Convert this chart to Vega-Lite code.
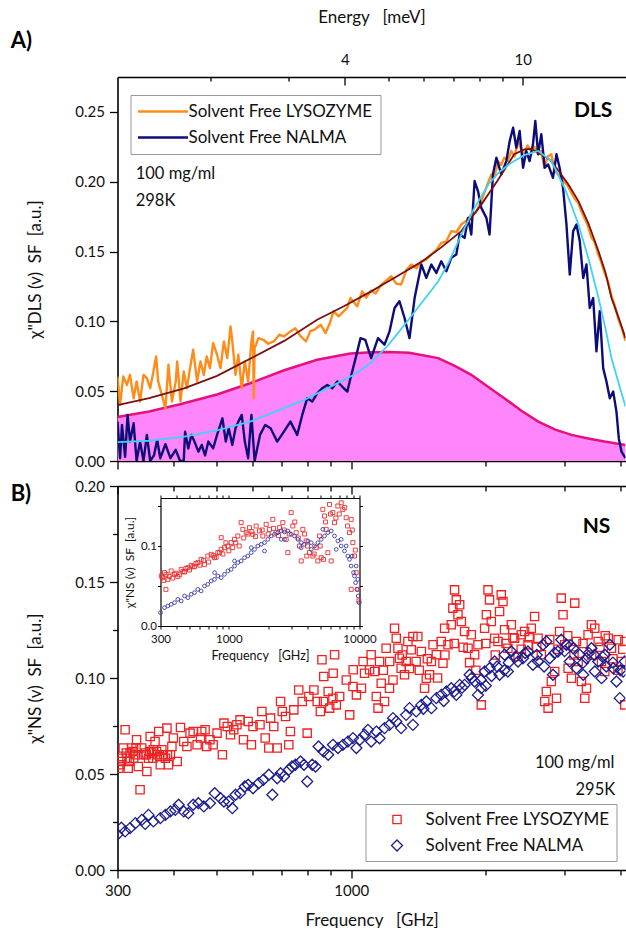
{
"$schema": "https://vega.github.io/schema/vega-lite/v6.json",
"padding": {"left": 10.5, "top": 8, "right": 0, "bottom": 0},
"background": "white",
"spacing": 25,
"bounds": "flush",
"config": {
  "font": "Lato",
  "view": {"stroke": null},
  "axis": {"grid": false, "domainColor": "#000", "domainWidth": 1.6, "tickColor": "#000", "tickWidth": 1.3, "labelColor": "#111", "titleColor": "#111", "labelFont": "Lato", "titleFont": "Lato", "labelFontSize": 15, "titleFontSize": 17, "titleFontWeight": "normal", "labelFlush": false, "labelOverlap": false},
  "legend": {"labelFont": "Lato", "labelFontSize": 17, "labelColor": "#111", "labelLimit": 400}
},
"datasets": {
  "comp": [{"f":300,"v":0.0315},{"f":353,"v":0.0355},{"f":412,"v":0.0405},{"f":501,"v":0.0476},{"f":594,"v":0.0557},{"f":708,"v":0.065},{"f":839,"v":0.0725},{"f":995,"v":0.077},{"f":1108,"v":0.0778},{"f":1210,"v":0.078},{"f":1348,"v":0.0775},{"f":1566,"v":0.0737},{"f":1709,"v":0.068},{"f":1856,"v":0.0617},{"f":2026,"v":0.053},{"f":2200,"v":0.045},{"f":2402,"v":0.036},{"f":2621,"v":0.0282},{"f":2861,"v":0.0225},{"f":3109,"v":0.0187},{"f":3411,"v":0.016},{"f":3686,"v":0.0139},{"f":4107,"v":0.0115}],
  "fitL": [{"f":300,"v":0.040},{"f":353,"v":0.045},{"f":423,"v":0.052},{"f":501,"v":0.061},{"f":594,"v":0.0732},{"f":708,"v":0.086},{"f":839,"v":0.1012},{"f":965,"v":0.111},{"f":1108,"v":0.1215},{"f":1261,"v":0.132},{"f":1435,"v":0.1426},{"f":1590,"v":0.153},{"f":1763,"v":0.1646},{"f":1954,"v":0.1836},{"f":2122,"v":0.2005},{"f":2316,"v":0.2197},{"f":2439,"v":0.2232},{"f":2528,"v":0.2235},{"f":2621,"v":0.2208},{"f":2788,"v":0.2155},{"f":2911,"v":0.2077},{"f":3061,"v":0.198},{"f":3223,"v":0.1861},{"f":3394,"v":0.170},{"f":3574,"v":0.1502},{"f":3704,"v":0.135},{"f":3821,"v":0.1167},{"f":3971,"v":0.102},{"f":4107,"v":0.088}],
  "fitN": [{"f":300,"v":0.0135},{"f":353,"v":0.0145},{"f":423,"v":0.0174},{"f":501,"v":0.022},{"f":594,"v":0.0282},{"f":672,"v":0.035},{"f":777,"v":0.043},{"f":916,"v":0.0545},{"f":1016,"v":0.062},{"f":1108,"v":0.0705},{"f":1210,"v":0.083},{"f":1316,"v":0.0976},{"f":1435,"v":0.113},{"f":1566,"v":0.1287},{"f":1657,"v":0.143},{"f":1763,"v":0.1622},{"f":1885,"v":0.181},{"f":2026,"v":0.198},{"f":2144,"v":0.207},{"f":2281,"v":0.2136},{"f":2439,"v":0.219},{"f":2621,"v":0.222},{"f":2803,"v":0.2148},{"f":2999,"v":0.1957},{"f":3109,"v":0.183},{"f":3223,"v":0.1694},{"f":3394,"v":0.145},{"f":3574,"v":0.1167},{"f":3704,"v":0.095},{"f":3821,"v":0.0737},{"f":3971,"v":0.055},{"f":4107,"v":0.039}],
  "dlsL": [{"f":300,"v":0.0605},{"f":304,"v":0.0402},{"f":309,"v":0.0605},{"f":315,"v":0.0545},{"f":320,"v":0.0617},{"f":326,"v":0.0449},{"f":331,"v":0.0569},{"f":337,"v":0.0426},{"f":343,"v":0.0617},{"f":349,"v":0.0593},{"f":355,"v":0.0521},{"f":361,"v":0.0641},{"f":366,"v":0.0749},{"f":370,"v":0.0569},{"f":377,"v":0.0474},{"f":384,"v":0.0378},{"f":390,"v":0.0689},{"f":397,"v":0.0426},{"f":405,"v":0.0569},{"f":408,"v":0.0713},{"f":415,"v":0.0426},{"f":422,"v":0.0641},{"f":429,"v":0.0521},{"f":436,"v":0.0665},{"f":443,"v":0.0797},{"f":452,"v":0.0569},{"f":460,"v":0.0713},{"f":468,"v":0.0617},{"f":475,"v":0.0749},{"f":483,"v":0.0665},{"f":491,"v":0.0844},{"f":501,"v":0.0761},{"f":510,"v":0.0665},{"f":519,"v":0.0856},{"f":528,"v":0.0737},{"f":537,"v":0.0964},{"f":542,"v":0.0856},{"f":551,"v":0.0617},{"f":559,"v":0.0761},{"f":569,"v":0.0521},{"f":578,"v":0.0713},{"f":588,"v":0.0569},{"f":598,"v":0.0856},{"f":603,"v":0.0928},{"f":605,"v":0.0449},{"f":608,"v":0.0808},{"f":620,"v":0.088},{"f":636,"v":0.0868},{"f":652,"v":0.084},{"f":671,"v":0.0856},{"f":690,"v":0.0905},{"f":707,"v":0.0892},{"f":731,"v":0.0928},{"f":750,"v":0.095},{"f":771,"v":0.0892},{"f":792,"v":0.0856},{"f":810,"v":0.093},{"f":827,"v":0.094},{"f":855,"v":0.0976},{"f":876,"v":0.0916},{"f":895,"v":0.0985},{"f":913,"v":0.1072},{"f":937,"v":0.1036},{"f":960,"v":0.107},{"f":980,"v":0.1096},{"f":996,"v":0.1167},{"f":1031,"v":0.1108},{"f":1058,"v":0.1215},{"f":1080,"v":0.117},{"f":1108,"v":0.122},{"f":1135,"v":0.12},{"f":1167,"v":0.1263},{"f":1195,"v":0.129},{"f":1229,"v":0.1323},{"f":1260,"v":0.127},{"f":1293,"v":0.1263},{"f":1330,"v":0.137},{"f":1362,"v":0.1407},{"f":1400,"v":0.138},{"f":1434,"v":0.143},{"f":1470,"v":0.144},{"f":1510,"v":0.1479},{"f":1550,"v":0.151},{"f":1590,"v":0.1562},{"f":1630,"v":0.157},{"f":1674,"v":0.1646},{"f":1720,"v":0.164},{"f":1763,"v":0.1694},{"f":1810,"v":0.172},{"f":1856,"v":0.1766},{"f":1900,"v":0.178},{"f":1954,"v":0.1861},{"f":2000,"v":0.195},{"f":2057,"v":0.205},{"f":2090,"v":0.203},{"f":2130,"v":0.2148},{"f":2165,"v":0.212},{"f":2200,"v":0.2172},{"f":2240,"v":0.215},{"f":2281,"v":0.222},{"f":2320,"v":0.218},{"f":2361,"v":0.2292},{"f":2400,"v":0.223},{"f":2439,"v":0.2197},{"f":2480,"v":0.226},{"f":2528,"v":0.222},{"f":2570,"v":0.225},{"f":2618,"v":0.2197},{"f":2660,"v":0.222},{"f":2705,"v":0.21},{"f":2750,"v":0.218},{"f":2803,"v":0.2197},{"f":2850,"v":0.208},{"f":2903,"v":0.205},{"f":2950,"v":0.203},{"f":2999,"v":0.2},{"f":3050,"v":0.197},{"f":3109,"v":0.192},{"f":3160,"v":0.188},{"f":3218,"v":0.185},{"f":3270,"v":0.179},{"f":3324,"v":0.174},{"f":3380,"v":0.169},{"f":3446,"v":0.16},{"f":3500,"v":0.157},{"f":3568,"v":0.148},{"f":3620,"v":0.143},{"f":3685,"v":0.135},{"f":3750,"v":0.129},{"f":3821,"v":0.118},{"f":3890,"v":0.111},{"f":3955,"v":0.102},{"f":4030,"v":0.095},{"f":4107,"v":0.086}],
  "dlsN": [{"f":300,"v":0.0282},{"f":304,"v":0.002},{"f":307,"v":0.0259},{"f":312,"v":0.003},{"f":316,"v":0.033},{"f":320,"v":0.0139},{"f":326,"v":0.027},{"f":331,"v":0.0},{"f":337,"v":0.0139},{"f":343,"v":0.0},{"f":349,"v":0.0187},{"f":355,"v":0.0},{"f":362,"v":0.004},{"f":368,"v":0.015},{"f":374,"v":0.002},{"f":384,"v":0.012},{"f":394,"v":0.002},{"f":405,"v":0.008},{"f":414,"v":0.0},{"f":422,"v":0.0},{"f":425,"v":0.021},{"f":432,"v":0.009},{"f":439,"v":0.0187},{"f":446,"v":0.0139},{"f":455,"v":0.0067},{"f":463,"v":0.0115},{"f":471,"v":0.004},{"f":479,"v":0.0139},{"f":491,"v":0.009},{"f":501,"v":0.0187},{"f":515,"v":0.0306},{"f":524,"v":0.0139},{"f":532,"v":0.0234},{"f":542,"v":0.0115},{"f":551,"v":0.0234},{"f":559,"v":0.0282},{"f":569,"v":0.033},{"f":578,"v":0.0139},{"f":588,"v":0.002},{"f":598,"v":0.033},{"f":608,"v":0.0},{"f":625,"v":0.0187},{"f":642,"v":0.0258},{"f":660,"v":0.0234},{"f":683,"v":0.0139},{"f":707,"v":0.021},{"f":731,"v":0.0282},{"f":757,"v":0.0187},{"f":777,"v":0.033},{"f":797,"v":0.0449},{"f":818,"v":0.0426},{"f":839,"v":0.0485},{"f":861,"v":0.0521},{"f":884,"v":0.0545},{"f":907,"v":0.0521},{"f":931,"v":0.0569},{"f":962,"v":0.0521},{"f":980,"v":0.0497},{"f":996,"v":0.0593},{"f":1023,"v":0.0737},{"f":1049,"v":0.088},{"f":1075,"v":0.0868},{"f":1108,"v":0.0737},{"f":1148,"v":0.088},{"f":1187,"v":0.0833},{"f":1218,"v":0.0928},{"f":1250,"v":0.1096},{"f":1282,"v":0.1144},{"f":1316,"v":0.1024},{"f":1350,"v":0.088},{"f":1386,"v":0.1167},{"f":1435,"v":0.1407},{"f":1472,"v":0.1311},{"f":1511,"v":0.1407},{"f":1550,"v":0.1347},{"f":1590,"v":0.143},{"f":1632,"v":0.1359},{"f":1674,"v":0.1455},{"f":1718,"v":0.1479},{"f":1748,"v":0.1622},{"f":1793,"v":0.1598},{"f":1825,"v":0.1741},{"f":1856,"v":0.1622},{"f":1888,"v":0.2005},{"f":1921,"v":0.1933},{"f":1954,"v":0.1813},{"f":2006,"v":0.1741},{"f":2039,"v":0.1622},{"f":2075,"v":0.2053},{"f":2112,"v":0.2172},{"f":2166,"v":0.2053},{"f":2223,"v":0.2148},{"f":2262,"v":0.2292},{"f":2302,"v":0.2387},{"f":2340,"v":0.2244},{"f":2381,"v":0.2364},{"f":2423,"v":0.21},{"f":2464,"v":0.222},{"f":2506,"v":0.2148},{"f":2550,"v":0.2268},{"f":2581,"v":0.2436},{"f":2618,"v":0.2197},{"f":2662,"v":0.234},{"f":2709,"v":0.21},{"f":2757,"v":0.2124},{"f":2827,"v":0.2028},{"f":2878,"v":0.2197},{"f":2925,"v":0.21},{"f":2977,"v":0.1957},{"f":3030,"v":0.1694},{"f":3082,"v":0.1335},{"f":3136,"v":0.1646},{"f":3190,"v":0.1694},{"f":3245,"v":0.1575},{"f":3303,"v":0.1311},{"f":3359,"v":0.1407},{"f":3416,"v":0.1096},{"f":3477,"v":0.1167},{"f":3536,"v":0.0785},{"f":3597,"v":0.1072},{"f":3661,"v":0.0665},{"f":3723,"v":0.0569},{"f":3788,"v":0.0449},{"f":3855,"v":0.0497},{"f":3920,"v":0.0354},{"f":3968,"v":0.0162},{"f":4023,"v":0.0067},{"f":4107,"v":0.002}],
  "ns": [{"s":"L","f":302,"v":0.053},{"s":"L","f":304,"v":0.0548},{"s":"L","f":305,"v":0.0565},{"s":"L","f":307,"v":0.0582},{"s":"L","f":309,"v":0.0635},{"s":"L","f":312,"v":0.073},{"s":"L","f":314,"v":0.0609},{"s":"L","f":315,"v":0.0582},{"s":"L","f":317,"v":0.053},{"s":"L","f":319,"v":0.0565},{"s":"L","f":320,"v":0.0609},{"s":"L","f":323,"v":0.0635},{"s":"L","f":325,"v":0.0617},{"s":"L","f":326,"v":0.0582},{"s":"L","f":329,"v":0.06},{"s":"L","f":330,"v":0.0635},{"s":"L","f":331,"v":0.0678},{"s":"L","f":334,"v":0.0539},{"s":"L","f":337,"v":0.0418},{"s":"L","f":340,"v":0.0635},{"s":"L","f":343,"v":0.06},{"s":"L","f":346,"v":0.0609},{"s":"L","f":348,"v":0.06},{"s":"L","f":349,"v":0.0513},{"s":"L","f":352,"v":0.0582},{"s":"L","f":354,"v":0.0617},{"s":"L","f":355,"v":0.0695},{"s":"L","f":358,"v":0.0609},{"s":"L","f":360,"v":0.0582},{"s":"L","f":361,"v":0.0626},{"s":"L","f":364,"v":0.0669},{"s":"L","f":367,"v":0.0617},{"s":"L","f":368,"v":0.06},{"s":"L","f":371,"v":0.0721},{"s":"L","f":373,"v":0.0591},{"s":"L","f":374,"v":0.0548},{"s":"L","f":377,"v":0.0626},{"s":"L","f":380,"v":0.06},{"s":"L","f":384,"v":0.0582},{"s":"L","f":387,"v":0.0739},{"s":"L","f":388,"v":0.06},{"s":"L","f":390,"v":0.0548},{"s":"L","f":394,"v":0.06},{"s":"L","f":397,"v":0.0643},{"s":"L","f":400,"v":0.0687},{"s":"L","f":408,"v":0.0565},{"s":"L","f":415,"v":0.0742},{"s":"L","f":422,"v":0.0669},{"s":"L","f":429,"v":0.0643},{"s":"L","f":436,"v":0.0713},{"s":"L","f":443,"v":0.0721},{"s":"L","f":452,"v":0.0652},{"s":"L","f":460,"v":0.0687},{"s":"L","f":463,"v":0.0721},{"s":"L","f":471,"v":0.073},{"s":"L","f":475,"v":0.0643},{"s":"L","f":483,"v":0.0678},{"s":"L","f":491,"v":0.0652},{"s":"L","f":501,"v":0.0713},{"s":"L","f":515,"v":0.06},{"s":"L","f":519,"v":0.0765},{"s":"L","f":528,"v":0.0747},{"s":"L","f":537,"v":0.0704},{"s":"L","f":546,"v":0.073},{"s":"L","f":555,"v":0.0756},{"s":"L","f":564,"v":0.0782},{"s":"L","f":574,"v":0.0678},{"s":"L","f":588,"v":0.0773},{"s":"L","f":598,"v":0.0652},{"s":"L","f":603,"v":0.0747},{"s":"L","f":625,"v":0.0756},{"s":"L","f":631,"v":0.0826},{"s":"L","f":642,"v":0.0687},{"s":"L","f":654,"v":0.0635},{"s":"L","f":660,"v":0.0791},{"s":"L","f":671,"v":0.0747},{"s":"L","f":683,"v":0.0635},{"s":"L","f":695,"v":0.0878},{"s":"L","f":701,"v":0.0826},{"s":"L","f":713,"v":0.0799},{"s":"L","f":725,"v":0.0652},{"s":"L","f":731,"v":0.0721},{"s":"L","f":744,"v":0.0834},{"s":"L","f":763,"v":0.0938},{"s":"L","f":777,"v":0.0878},{"s":"L","f":797,"v":0.0713},{"s":"L","f":804,"v":0.0904},{"s":"L","f":825,"v":0.0938},{"s":"L","f":839,"v":0.0878},{"s":"L","f":853,"v":0.0826},{"s":"L","f":860,"v":0.1095},{"s":"L","f":867,"v":0.0878},{"s":"L","f":868,"v":0.1008},{"s":"L","f":888,"v":0.093},{"s":"L","f":895,"v":0.0843},{"s":"L","f":910,"v":0.0895},{"s":"L","f":911,"v":0.1025},{"s":"L","f":918,"v":0.1121},{"s":"L","f":926,"v":0.086},{"s":"L","f":942,"v":0.0904},{"s":"L","f":975,"v":0.099},{"s":"L","f":992,"v":0.0808},{"s":"L","f":1009,"v":0.0956},{"s":"L","f":1010,"v":0.1043},{"s":"L","f":1027,"v":0.0912},{"s":"L","f":1054,"v":0.0947},{"s":"L","f":1063,"v":0.1086},{"s":"L","f":1071,"v":0.1025},{"s":"L","f":1099,"v":0.1043},{"s":"L","f":1108,"v":0.1121},{"s":"L","f":1128,"v":0.1034},{"s":"L","f":1138,"v":0.0904},{"s":"L","f":1148,"v":0.0843},{"s":"L","f":1157,"v":0.1086},{"s":"L","f":1167,"v":0.0973},{"s":"L","f":1180,"v":0.104},{"s":"L","f":1187,"v":0.0878},{"s":"L","f":1197,"v":0.1155},{"s":"L","f":1218,"v":0.0947},{"s":"L","f":1219,"v":0.1086},{"s":"L","f":1240,"v":0.099},{"s":"L","f":1250,"v":0.1259},{"s":"L","f":1261,"v":0.1207},{"s":"L","f":1272,"v":0.1155},{"s":"L","f":1282,"v":0.1103},{"s":"L","f":1293,"v":0.1051},{"s":"L","f":1300,"v":0.112},{"s":"L","f":1316,"v":0.1017},{"s":"L","f":1327,"v":0.1086},{"s":"L","f":1339,"v":0.119},{"s":"L","f":1350,"v":0.105},{"s":"L","f":1362,"v":0.1147},{"s":"L","f":1374,"v":0.1216},{"s":"L","f":1397,"v":0.1086},{"s":"L","f":1409,"v":0.1216},{"s":"L","f":1420,"v":0.104},{"s":"L","f":1435,"v":0.1138},{"s":"L","f":1459,"v":0.0947},{"s":"L","f":1472,"v":0.0999},{"s":"L","f":1480,"v":0.11},{"s":"L","f":1497,"v":0.1017},{"s":"L","f":1511,"v":0.1086},{"s":"L","f":1524,"v":0.1173},{"s":"L","f":1550,"v":0.1121},{"s":"L","f":1560,"v":0.1},{"s":"L","f":1590,"v":0.119},{"s":"L","f":1604,"v":0.1077},{"s":"L","f":1618,"v":0.1259},{"s":"L","f":1620,"v":0.112},{"s":"L","f":1646,"v":0.1173},{"s":"L","f":1674,"v":0.1277},{"s":"L","f":1688,"v":0.1364},{"s":"L","f":1700,"v":0.118},{"s":"L","f":1703,"v":0.1459},{"s":"L","f":1718,"v":0.1407},{"s":"L","f":1733,"v":0.1329},{"s":"L","f":1748,"v":0.1381},{"s":"L","f":1763,"v":0.1294},{"s":"L","f":1780,"v":0.116},{"s":"L","f":1793,"v":0.1242},{"s":"L","f":1825,"v":0.1155},{"s":"L","f":1840,"v":0.108},{"s":"L","f":1856,"v":0.1225},{"s":"L","f":1888,"v":0.1121},{"s":"L","f":1900,"v":0.104},{"s":"L","f":1921,"v":0.1173},{"s":"L","f":1954,"v":0.086},{"s":"L","f":1988,"v":0.1259},{"s":"L","f":2000,"v":0.118},{"s":"L","f":2006,"v":0.1329},{"s":"L","f":2023,"v":0.1459},{"s":"L","f":2039,"v":0.1407},{"s":"L","f":2057,"v":0.1294},{"s":"L","f":2093,"v":0.1207},{"s":"L","f":2100,"v":0.112},{"s":"L","f":2130,"v":0.119},{"s":"L","f":2147,"v":0.1346},{"s":"L","f":2166,"v":0.1433},{"s":"L","f":2185,"v":0.1398},{"s":"L","f":2203,"v":0.1251},{"s":"L","f":2220,"v":0.118},{"s":"L","f":2241,"v":0.1155},{"s":"L","f":2281,"v":0.1277},{"s":"L","f":2300,"v":0.121},{"s":"L","f":2320,"v":0.1207},{"s":"L","f":2361,"v":0.1112},{"s":"L","f":2400,"v":0.115},{"s":"L","f":2401,"v":0.1225},{"s":"L","f":2443,"v":0.1242},{"s":"L","f":2485,"v":0.1173},{"s":"L","f":2500,"v":0.121},{"s":"L","f":2528,"v":0.1259},{"s":"L","f":2572,"v":0.132},{"s":"L","f":2600,"v":0.116},{"s":"L","f":2618,"v":0.1207},{"s":"L","f":2662,"v":0.1121},{"s":"L","f":2709,"v":0.0878},{"s":"L","f":2732,"v":0.093},{"s":"L","f":2757,"v":0.0843},{"s":"L","f":2780,"v":0.12},{"s":"L","f":2803,"v":0.0982},{"s":"L","f":2852,"v":0.1034},{"s":"L","f":2878,"v":0.0895},{"s":"L","f":2900,"v":0.115},{"s":"L","f":2925,"v":0.1242},{"s":"L","f":2950,"v":0.1416},{"s":"L","f":2977,"v":0.1329},{"s":"L","f":3004,"v":0.1173},{"s":"L","f":3050,"v":0.122},{"s":"L","f":3056,"v":0.1051},{"s":"L","f":3109,"v":0.0999},{"s":"L","f":3150,"v":0.112},{"s":"L","f":3162,"v":0.139},{"s":"L","f":3190,"v":0.119},{"s":"L","f":3218,"v":0.1086},{"s":"L","f":3273,"v":0.0982},{"s":"L","f":3300,"v":0.118},{"s":"L","f":3330,"v":0.0895},{"s":"L","f":3359,"v":0.0947},{"s":"L","f":3387,"v":0.1225},{"s":"L","f":3446,"v":0.1277},{"s":"L","f":3450,"v":0.112},{"s":"L","f":3506,"v":0.1259},{"s":"L","f":3568,"v":0.119},{"s":"L","f":3600,"v":0.116},{"s":"L","f":3630,"v":0.1086},{"s":"L","f":3692,"v":0.1034},{"s":"L","f":3700,"v":0.122},{"s":"L","f":3758,"v":0.1207},{"s":"L","f":3821,"v":0.1155},{"s":"L","f":3850,"v":0.11},{"s":"L","f":3950,"v":0.104},{"s":"L","f":3955,"v":0.1199},{"s":"L","f":4023,"v":0.1086},{"s":"L","f":4050,"v":0.115},{"s":"L","f":4092,"v":0.086},{"s":"L","f":4093,"v":0.119},
{"s":"N","f":300,"v":0.0185},{"s":"N","f":306,"v":0.022},{"s":"N","f":312,"v":0.0201},{"s":"N","f":320,"v":0.0218},{"s":"N","f":329,"v":0.0244},{"s":"N","f":340,"v":0.0261},{"s":"N","f":346,"v":0.024},{"s":"N","f":352,"v":0.0287},{"s":"N","f":361,"v":0.0253},{"s":"N","f":374,"v":0.027},{"s":"N","f":384,"v":0.0287},{"s":"N","f":394,"v":0.0305},{"s":"N","f":404,"v":0.0313},{"s":"N","f":411,"v":0.034},{"s":"N","f":422,"v":0.0305},{"s":"N","f":432,"v":0.0296},{"s":"N","f":443,"v":0.034},{"s":"N","f":455,"v":0.0348},{"s":"N","f":468,"v":0.0331},{"s":"N","f":483,"v":0.0348},{"s":"N","f":495,"v":0.04},{"s":"N","f":510,"v":0.0374},{"s":"N","f":519,"v":0.0357},{"s":"N","f":532,"v":0.0357},{"s":"N","f":542,"v":0.0322},{"s":"N","f":551,"v":0.0392},{"s":"N","f":564,"v":0.04},{"s":"N","f":578,"v":0.0435},{"s":"N","f":588,"v":0.0444},{"s":"N","f":603,"v":0.0426},{"s":"N","f":621,"v":0.0452},{"s":"N","f":636,"v":0.047},{"s":"N","f":654,"v":0.0496},{"s":"N","f":666,"v":0.0392},{"s":"N","f":683,"v":0.0478},{"s":"N","f":695,"v":0.0504},{"s":"N","f":707,"v":0.0487},{"s":"N","f":725,"v":0.0522},{"s":"N","f":737,"v":0.0539},{"s":"N","f":750,"v":0.0548},{"s":"N","f":770,"v":0.0565},{"s":"N","f":784,"v":0.0548},{"s":"N","f":797,"v":0.0461},{"s":"N","f":818,"v":0.0548},{"s":"N","f":832,"v":0.0539},{"s":"N","f":845,"v":0.0643},{"s":"N","f":867,"v":0.0617},{"s":"N","f":888,"v":0.06},{"s":"N","f":910,"v":0.0652},{"s":"N","f":934,"v":0.0635},{"s":"N","f":958,"v":0.0652},{"s":"N","f":983,"v":0.0669},{"s":"N","f":1009,"v":0.0687},{"s":"N","f":1027,"v":0.0635},{"s":"N","f":1045,"v":0.0678},{"s":"N","f":1071,"v":0.0704},{"s":"N","f":1090,"v":0.073},{"s":"N","f":1108,"v":0.0669},{"s":"N","f":1138,"v":0.0721},{"s":"N","f":1157,"v":0.0686},{"s":"N","f":1187,"v":0.0739},{"s":"N","f":1218,"v":0.0756},{"s":"N","f":1240,"v":0.0791},{"s":"N","f":1261,"v":0.0773},{"s":"N","f":1293,"v":0.0739},{"s":"N","f":1327,"v":0.0808},{"s":"N","f":1350,"v":0.0843},{"s":"N","f":1374,"v":0.0756},{"s":"N","f":1397,"v":0.0826},{"s":"N","f":1435,"v":0.086},{"s":"N","f":1450,"v":0.084},{"s":"N","f":1472,"v":0.0878},{"s":"N","f":1511,"v":0.0843},{"s":"N","f":1550,"v":0.0895},{"s":"N","f":1590,"v":0.0912},{"s":"N","f":1610,"v":0.088},{"s":"N","f":1632,"v":0.093},{"s":"N","f":1674,"v":0.0947},{"s":"N","f":1700,"v":0.093},{"s":"N","f":1718,"v":0.0912},{"s":"N","f":1748,"v":0.0964},{"s":"N","f":1770,"v":0.095},{"s":"N","f":1793,"v":0.0964},{"s":"N","f":1840,"v":0.1017},{"s":"N","f":1860,"v":0.1},{"s":"N","f":1888,"v":0.0982},{"s":"N","f":1921,"v":0.0912},{"s":"N","f":1950,"v":0.099},{"s":"N","f":1954,"v":0.0947},{"s":"N","f":1988,"v":0.1034},{"s":"N","f":2000,"v":0.096},{"s":"N","f":2039,"v":0.1051},{"s":"N","f":2060,"v":0.101},{"s":"N","f":2093,"v":0.1086},{"s":"N","f":2120,"v":0.106},{"s":"N","f":2147,"v":0.1017},{"s":"N","f":2200,"v":0.104},{"s":"N","f":2203,"v":0.1121},{"s":"N","f":2241,"v":0.1034},{"s":"N","f":2250,"v":0.108},{"s":"N","f":2281,"v":0.1138},{"s":"N","f":2330,"v":0.111},{"s":"N","f":2361,"v":0.1086},{"s":"N","f":2422,"v":0.1103},{"s":"N","f":2450,"v":0.113},{"s":"N","f":2485,"v":0.1138},{"s":"N","f":2550,"v":0.1069},{"s":"N","f":2600,"v":0.112},{"s":"N","f":2618,"v":0.1086},{"s":"N","f":2686,"v":0.1173},{"s":"N","f":2700,"v":0.106},{"s":"N","f":2732,"v":0.119},{"s":"N","f":2780,"v":0.1103},{"s":"N","f":2827,"v":0.1017},{"s":"N","f":2850,"v":0.113},{"s":"N","f":2900,"v":0.1138},{"s":"N","f":2950,"v":0.1199},{"s":"N","f":3000,"v":0.114},{"s":"N","f":3030,"v":0.1173},{"s":"N","f":3082,"v":0.1086},{"s":"N","f":3100,"v":0.117},{"s":"N","f":3136,"v":0.1155},{"s":"N","f":3190,"v":0.1051},{"s":"N","f":3245,"v":0.1121},{"s":"N","f":3300,"v":0.108},{"s":"N","f":3303,"v":0.1017},{"s":"N","f":3359,"v":0.1103},{"s":"N","f":3400,"v":0.113},{"s":"N","f":3446,"v":0.1155},{"s":"N","f":3500,"v":0.112},{"s":"N","f":3506,"v":0.1034},{"s":"N","f":3568,"v":0.1086},{"s":"N","f":3630,"v":0.0999},{"s":"N","f":3650,"v":0.111},{"s":"N","f":3692,"v":0.1121},{"s":"N","f":3720,"v":0.106},{"s":"N","f":3788,"v":0.1173},{"s":"N","f":3850,"v":0.108},{"s":"N","f":3855,"v":0.1051},{"s":"N","f":3920,"v":0.0982},{"s":"N","f":3988,"v":0.0895},{"s":"N","f":4000,"v":0.104},{"s":"N","f":4057,"v":0.1034},{"s":"N","f":4092,"v":0.1086}],
  "insL": [{"f":304,"v":0.0625},{"f":312,"v":0.0604},{"f":318,"v":0.057},{"f":322,"v":0.0667},{"f":330,"v":0.0458},{"f":331,"v":0.0646},{"f":341,"v":0.0583},{"f":350,"v":0.062},{"f":362,"v":0.0688},{"f":372,"v":0.06},{"f":384,"v":0.0646},{"f":395,"v":0.066},{"f":407,"v":0.0617},{"f":420,"v":0.064},{"f":432,"v":0.0708},{"f":445,"v":0.068},{"f":458,"v":0.0675},{"f":470,"v":0.072},{"f":486,"v":0.0729},{"f":500,"v":0.07},{"f":515,"v":0.0758},{"f":530,"v":0.074},{"f":546,"v":0.0742},{"f":560,"v":0.078},{"f":579,"v":0.0792},{"f":600,"v":0.076},{"f":614,"v":0.0833},{"f":640,"v":0.082},{"f":651,"v":0.0767},{"f":691,"v":0.0875},{"f":700,"v":0.08},{"f":733,"v":0.0896},{"f":760,"v":0.088},{"f":777,"v":0.0854},{"f":800,"v":0.086},{"f":824,"v":0.0917},{"f":850,"v":0.092},{"f":874,"v":0.0958},{"f":875,"v":0.1104},{"f":900,"v":0.09},{"f":927,"v":0.0979},{"f":950,"v":0.104},{"f":983,"v":0.1},{"f":1000,"v":0.094},{"f":1042,"v":0.1042},{"f":1070,"v":0.098},{"f":1105,"v":0.1083},{"f":1130,"v":0.104},{"f":1172,"v":0.1125},{"f":1200,"v":0.1},{"f":1243,"v":0.1292},{"f":1280,"v":0.1208},{"f":1300,"v":0.11},{"f":1358,"v":0.1167},{"f":1400,"v":0.115},{"f":1440,"v":0.1229},{"f":1500,"v":0.118},{"f":1527,"v":0.1146},{"f":1600,"v":0.112},{"f":1619,"v":0.125},{"f":1717,"v":0.1188},{"f":1800,"v":0.12},{"f":1821,"v":0.1125},{"f":1931,"v":0.127},{"f":2000,"v":0.115},{"f":2048,"v":0.1208},{"f":2172,"v":0.1333},{"f":2200,"v":0.122},{"f":2303,"v":0.1167},{"f":2400,"v":0.113},{"f":2443,"v":0.1229},{"f":2590,"v":0.1292},{"f":2650,"v":0.12},{"f":2747,"v":0.1083},{"f":2829,"v":0.0917},{"f":2900,"v":0.115},{"f":3000,"v":0.1417},{"f":3089,"v":0.125},{"f":3200,"v":0.13},{"f":3277,"v":0.1167},{"f":3400,"v":0.11},{"f":3475,"v":0.1},{"f":3579,"v":0.0813},{"f":3685,"v":0.1208},{"f":3800,"v":0.115},{"f":3908,"v":0.1063},{"f":3950,"v":0.0875},{"f":4000,"v":0.1},{"f":4144,"v":0.0917},{"f":4395,"v":0.0875},{"f":4500,"v":0.09},{"f":4661,"v":0.0979},{"f":4800,"v":0.0813},{"f":4943,"v":0.1125},{"f":5000,"v":0.1},{"f":5091,"v":0.0854},{"f":5242,"v":0.1458},{"f":5300,"v":0.0833},{"f":5398,"v":0.1375},{"f":5500,"v":0.13},{"f":5560,"v":0.1208},{"f":5725,"v":0.0917},{"f":5896,"v":0.152},{"f":6000,"v":0.14},{"f":6071,"v":0.0813},{"f":6252,"v":0.1417},{"f":6438,"v":0.1292},{"f":6600,"v":0.135},{"f":6827,"v":0.15},{"f":7000,"v":0.14},{"f":7241,"v":0.154},{"f":7457,"v":0.1458},{"f":7700,"v":0.148},{"f":7907,"v":0.1354},{"f":8100,"v":0.125},{"f":8387,"v":0.1167},{"f":8637,"v":0.1333},{"f":8640,"v":0.0458},{"f":8800,"v":0.12},{"f":8894,"v":0.1042},{"f":9160,"v":0.0875},{"f":9300,"v":0.095},{"f":9432,"v":0.0667},{"f":9714,"v":0.0458},{"f":9890,"v":0.0313}],
  "insN": [{"f":300,"v":0.0167},{"f":322,"v":0.0229},{"f":341,"v":0.025},{"f":362,"v":0.0271},{"f":384,"v":0.0292},{"f":407,"v":0.0333},{"f":432,"v":0.0313},{"f":458,"v":0.0375},{"f":486,"v":0.0354},{"f":515,"v":0.0396},{"f":546,"v":0.0417},{"f":579,"v":0.0458},{"f":614,"v":0.0438},{"f":651,"v":0.05},{"f":691,"v":0.0521},{"f":733,"v":0.0563},{"f":777,"v":0.0583},{"f":778,"v":0.0667},{"f":824,"v":0.0625},{"f":874,"v":0.0604},{"f":927,"v":0.0646},{"f":983,"v":0.0688},{"f":1042,"v":0.0708},{"f":1105,"v":0.075},{"f":1106,"v":0.0813},{"f":1172,"v":0.0792},{"f":1243,"v":0.0813},{"f":1318,"v":0.0854},{"f":1398,"v":0.0875},{"f":1483,"v":0.0917},{"f":1484,"v":0.0979},{"f":1572,"v":0.0958},{"f":1667,"v":0.1},{"f":1768,"v":0.1021},{"f":1875,"v":0.1042},{"f":1876,"v":0.0938},{"f":1988,"v":0.1083},{"f":2109,"v":0.1125},{"f":2236,"v":0.1146},{"f":2372,"v":0.1167},{"f":2516,"v":0.1188},{"f":2517,"v":0.1083},{"f":2668,"v":0.1175},{"f":2669,"v":0.1083},{"f":2829,"v":0.1188},{"f":3000,"v":0.1146},{"f":3182,"v":0.1125},{"f":3374,"v":0.1083},{"f":3579,"v":0.1042},{"f":3580,"v":0.0979},{"f":3795,"v":0.1021},{"f":4025,"v":0.1063},{"f":4268,"v":0.1042},{"f":4269,"v":0.0958},{"f":4526,"v":0.1},{"f":4800,"v":0.1042},{"f":5091,"v":0.1083},{"f":5242,"v":0.1208},{"f":5398,"v":0.1125},{"f":5725,"v":0.1167},{"f":6071,"v":0.1188},{"f":6438,"v":0.1125},{"f":6630,"v":0.0958},{"f":6827,"v":0.1063},{"f":7241,"v":0.1},{"f":7242,"v":0.1083},{"f":7679,"v":0.0938},{"f":7907,"v":0.1},{"f":8144,"v":0.0875},{"f":8387,"v":0.0833},{"f":8637,"v":0.075},{"f":8790,"v":0.0875},{"f":9000,"v":0.0667},{"f":9160,"v":0.0625},{"f":9330,"v":0.0542},{"f":9432,"v":0.075},{"f":9550,"v":0.0458},{"f":9714,"v":0.0583},{"f":9770,"v":0.0375},{"f":9950,"v":0.0292}]
},
"resolve": {"scale": {"x": "independent", "y": "independent", "color": "independent", "shape": "independent"}},
"vconcat": [
 {
  "width": 508, "height": 384,
  "layer": [
   {
    "layer": [
     {"data": {"name": "comp"}, "mark": {"type": "area", "color": "#ff85fa", "opacity": 1, "clip": true},
      "encoding": {
       "x": {"field": "f", "type": "quantitative", "scale": {"type": "log", "domain": [300, 4107], "nice": false},
             "axis": {"orient": "bottom", "values": [300,400,500,600,700,800,900,1000,2000,3000,4000], "labels": false, "title": null,
                      "tickSize": {"condition": {"test": "datum.value == 300 || datum.value == 1000", "value": 8}, "value": 5}}},
       "y": {"field": "v", "type": "quantitative", "scale": {"domain": [0, 0.275], "nice": false},
             "axis": {"orient": "left", "values": [0,0.025,0.05,0.075,0.1,0.125,0.15,0.175,0.2,0.225,0.25],
                      "labelExpr": "abs(datum.value*20 - round(datum.value*20)) < 0.001 ? format(datum.value, '.2f') : ''",
                      "tickSize": {"condition": {"test": "abs(datum.value*20 - round(datum.value*20)) < 0.001", "value": 8}, "value": 5},
                      "labelPadding": 5, "title": "χ\"DLS (v)\u00a0\u00a0SF\u00a0\u00a0[a.u.]", "titlePadding": 30}}
      }},
     {"data": {"name": "comp"}, "mark": {"type": "line", "color": "#e3127c", "strokeWidth": 2.5, "clip": true},
      "encoding": {"x": {"field": "f", "type": "quantitative"}, "y": {"field": "v", "type": "quantitative"}}},
     {"data": {"name": "dlsL"}, "mark": {"type": "line", "strokeWidth": 2.4, "clip": true, "strokeJoin": "round"},
      "encoding": {"x": {"field": "f", "type": "quantitative"}, "y": {"field": "v", "type": "quantitative"},
       "color": {"datum": "Solvent Free LYSOZYME", "type": "nominal", "scale": {"domain": ["Solvent Free LYSOZYME", "Solvent Free NALMA"], "range": ["#ff8c1a", "#0d0d7a"]},
         "legend": {"orient": "none", "legendX": 13, "legendY": 18, "title": null, "symbolType": "M-5,0H5", "symbolSize": 100, "symbolStrokeWidth": 2.6, "symbolOffset": 16, "labelOffset": 17, "labelFontSize": 17, "labelLimit": 400, "padding": 8, "rowPadding": 8, "strokeColor": "#999", "fillColor": "white"}}}},
     {"data": {"name": "dlsN"}, "mark": {"type": "line", "strokeWidth": 2.4, "clip": true, "strokeJoin": "round"},
      "encoding": {"x": {"field": "f", "type": "quantitative"}, "y": {"field": "v", "type": "quantitative"},
       "color": {"datum": "Solvent Free NALMA", "type": "nominal", "scale": {"domain": ["Solvent Free LYSOZYME", "Solvent Free NALMA"], "range": ["#ff8c1a", "#0d0d7a"]},
         "legend": {"orient": "none", "legendX": 13, "legendY": 18, "title": null, "symbolType": "M-5,0H5", "symbolSize": 100, "symbolStrokeWidth": 2.6, "symbolOffset": 16, "labelOffset": 17, "labelFontSize": 17, "labelLimit": 400, "padding": 8, "rowPadding": 8, "strokeColor": "#999", "fillColor": "white"}}}},
     {"data": {"name": "fitL"}, "mark": {"type": "line", "color": "#7a1010", "strokeWidth": 1.8, "clip": true},
      "encoding": {"x": {"field": "f", "type": "quantitative"}, "y": {"field": "v", "type": "quantitative"}}},
     {"data": {"name": "fitN"}, "mark": {"type": "line", "color": "#3fd2f2", "strokeWidth": 1.8, "clip": true},
      "encoding": {"x": {"field": "f", "type": "quantitative"}, "y": {"field": "v", "type": "quantitative"}}},
     {"data": {"values": [{}]}, "mark": {"type": "text", "text": "DLS", "fontSize": 21, "fontWeight": "bold", "align": "center", "baseline": "middle", "color": "#000"},
      "encoding": {"x": {"datum": 3476}, "y": {"datum": 0.2507}}},
     {"data": {"values": [{}]}, "mark": {"type": "text", "text": "100 mg/ml", "fontSize": 16.5, "align": "left", "baseline": "middle", "color": "#111"},
      "encoding": {"x": {"datum": 329.5}, "y": {"datum": 0.2053}}},
     {"data": {"values": [{}]}, "mark": {"type": "text", "text": "298K", "fontSize": 16.5, "align": "left", "baseline": "middle", "color": "#111"},
      "encoding": {"x": {"datum": 329.5}, "y": {"datum": 0.1861}}},
     {"data": {"values": [{}]}, "mark": {"type": "text", "text": "A)", "fontSize": 22, "fontWeight": "bold", "align": "left", "baseline": "middle", "color": "#000"},
      "encoding": {"x": {"datum": 173}, "y": {"datum": 0.301}}}
    ]
   },
   {
    "data": {"values": [{"e": 4}]},
    "mark": {"type": "point", "opacity": 0},
    "encoding": {"x": {"field": "e", "type": "quantitative", "scale": {"type": "log", "domain": [1.2407, 16.985], "nice": false},
      "axis": {"orient": "top", "values": [2,3,4,5,6,7,8,9,10], "labelExpr": "datum.value == 4 || datum.value == 10 ? datum.label : ''", "format": "d",
               "tickSize": {"condition": {"test": "datum.value == 4 || datum.value == 10", "value": -8}, "value": -4},
               "labelPadding": 18, "title": "Energy\u00a0\u00a0 [meV]", "titlePadding": 22}}}
   }
  ],
  "resolve": {"scale": {"x": "independent"}, "axis": {"x": "independent"}}
 },
 {
  "width": 508, "height": 384,
  "layer": [
   {
    "layer": [
     {"data": {"name": "ns"}, "mark": {"type": "point", "filled": false, "strokeWidth": 1.3, "size": 121, "opacity": 1, "clip": true},
      "encoding": {
       "x": {"field": "f", "type": "quantitative", "scale": {"type": "log", "domain": [300, 4107], "nice": false},
             "axis": {"orient": "bottom", "values": [300,400,500,600,700,800,900,1000,2000,3000,4000], "format": "d",
                      "labelExpr": "datum.value == 300 || datum.value == 1000 ? datum.label : ''",
                      "tickSize": {"condition": {"test": "datum.value == 300 || datum.value == 1000", "value": 8}, "value": 5},
                      "labelPadding": 5, "title": "Frequency\u00a0\u00a0 [GHz]", "titlePadding": 14}},
       "y": {"field": "v", "type": "quantitative", "scale": {"domain": [0, 0.2], "nice": false},
             "axis": {"orient": "left", "values": [0,0.025,0.05,0.075,0.1,0.125,0.15,0.175,0.2],
                      "labelExpr": "abs(datum.value*20 - round(datum.value*20)) < 0.001 ? format(datum.value, '.2f') : ''",
                      "tickSize": {"condition": {"test": "abs(datum.value*20 - round(datum.value*20)) < 0.001", "value": 8}, "value": 5},
                      "labelPadding": 5, "title": "χ\"NS (v)\u00a0\u00a0SF\u00a0\u00a0[a.u.]", "titlePadding": 30}},
       "color": {"field": "s", "type": "nominal", "scale": {"domain": ["L", "N"], "range": ["#ee2222", "#1c1c8c"]},
         "legend": {"orient": "none", "legendX": 248, "legendY": 318, "title": null, "symbolSize": 121, "symbolStrokeWidth": 1.3, "symbolOffset": 16, "labelOffset": 20, "labelFontSize": 17, "labelLimit": 400, "padding": 7, "rowPadding": 8, "strokeColor": "#999", "fillColor": "white",
                    "labelExpr": "datum.label == 'L' ? 'Solvent Free LYSOZYME' : 'Solvent Free NALMA'"}},
       "shape": {"field": "s", "type": "nominal", "scale": {"domain": ["L", "N"], "range": ["M-0.75,-0.75H0.75V0.75H-0.75Z", "M0,-1L1,0L0,1L-1,0Z"]},
         "legend": {"orient": "none", "legendX": 248, "legendY": 318, "title": null, "symbolSize": 121, "symbolStrokeWidth": 1.3, "symbolOffset": 16, "labelOffset": 20, "labelFontSize": 17, "labelLimit": 400, "padding": 7, "rowPadding": 8, "strokeColor": "#999", "fillColor": "white",
                    "labelExpr": "datum.label == 'L' ? 'Solvent Free LYSOZYME' : 'Solvent Free NALMA'"}}
      }},
     {"data": {"values": [{"f": 1000}]}, "mark": {"type": "point", "opacity": 0},
      "encoding": {"x": {"field": "f", "type": "quantitative",
             "axis": {"orient": "top", "values": [300,400,500,600,700,800,900,1000,2000,3000,4000], "labels": false, "title": null,
                      "tickSize": {"condition": {"test": "datum.value == 300 || datum.value == 1000", "value": -8}, "value": -5}}}}},
     {"data": {"values": [{}]}, "mark": {"type": "text", "text": "NS", "fontSize": 21, "fontWeight": "bold", "align": "center", "baseline": "middle", "color": "#000"},
      "encoding": {"x": {"datum": 3537, "axis": null}, "y": {"datum": 0.1789}}},
     {"data": {"values": [{}]}, "mark": {"type": "text", "text": "100 mg/ml", "fontSize": 16.5, "align": "right", "baseline": "middle", "color": "#111"},
      "encoding": {"x": {"datum": 3880, "axis": null}, "y": {"datum": 0.0556}}},
     {"data": {"values": [{}]}, "mark": {"type": "text", "text": "295K", "fontSize": 16.5, "align": "right", "baseline": "middle", "color": "#111"},
      "encoding": {"x": {"datum": 3895, "axis": null}, "y": {"datum": 0.0418}}},
     {"data": {"values": [{}]}, "mark": {"type": "text", "text": "B)", "fontSize": 22, "fontWeight": "bold", "align": "left", "baseline": "middle", "color": "#000"},
      "encoding": {"x": {"datum": 173, "axis": null}, "y": {"datum": 0.1956}}}
    ],
    "resolve": {"axis": {"x": "independent"}}
   },
   {
    "layer": [
     {"data": {"name": "insL"}, "mark": {"type": "point", "shape": "square", "filled": false, "size": 16, "strokeWidth": 0.9, "color": "#e83030", "opacity": 1},
      "encoding": {
       "x": {"field": "f", "type": "quantitative", "scale": {"type": "log", "domain": [300, 10000], "range": [43, 242], "nice": false},
             "axis": {"orient": "bottom", "offset": -244, "values": [300,400,500,600,700,800,900,1000,2000,3000,4000,5000,6000,7000,8000,9000,10000], "format": "d",
                      "labelExpr": "datum.value == 300 || datum.value == 1000 || datum.value == 10000 ? datum.label : ''",
                      "tickSize": 3, "labelPadding": 4, "labelFontSize": 11.5, "domainWidth": 1.2, "tickWidth": 1,
                      "title": "Frequency\u00a0\u00a0 [GHz]", "titleFontSize": 12.5, "titlePadding": 5}},
       "y": {"field": "v", "type": "quantitative", "scale": {"domain": [0, 0.16], "range": [140, 12], "nice": false},
             "axis": {"orient": "left", "offset": -43, "values": [0, 0.05, 0.1, 0.15], "labelExpr": "datum.value == 0 || datum.value == 0.1 ? format(datum.value, '.1f') : ''",
                      "tickSize": 3, "labelPadding": 1, "labelFontSize": 11.5, "domainWidth": 1.2, "tickWidth": 1,
                      "title": "χ\"NS (v)\u00a0\u00a0SF\u00a0\u00a0[a.u.]", "titleFontSize": 12, "titlePadding": 4}}
      }},
     {"data": {"name": "insN"}, "mark": {"type": "point", "shape": "circle", "filled": false, "size": 14, "strokeWidth": 0.9, "color": "#3a3aa8", "opacity": 1},
      "encoding": {"x": {"field": "f", "type": "quantitative", "axis": null}, "y": {"field": "v", "type": "quantitative", "axis": null}}},
     {"data": {"values": [{"f": 1000, "v": 0.1}]}, "mark": {"type": "point", "opacity": 0},
      "encoding": {"x": {"field": "f", "type": "quantitative",
             "axis": {"orient": "top", "offset": -12, "values": [300,400,500,600,700,800,900,1000,2000,3000,4000,5000,6000,7000,8000,9000,10000], "labels": false, "title": null, "tickSize": 3, "domainWidth": 1.2, "tickWidth": 1}},
        "y": {"field": "v", "type": "quantitative", "axis": {"orient": "right", "offset": -266, "values": [0, 0.05, 0.1, 0.15], "labels": false, "title": null, "tickSize": 3, "domainWidth": 1.2, "tickWidth": 1}}}}
    ],
    "resolve": {"axis": {"x": "independent", "y": "independent"}}
   }
  ],
  "resolve": {"scale": {"x": "independent", "y": "independent"}, "axis": {"x": "independent", "y": "independent"}}
 }
]
}
